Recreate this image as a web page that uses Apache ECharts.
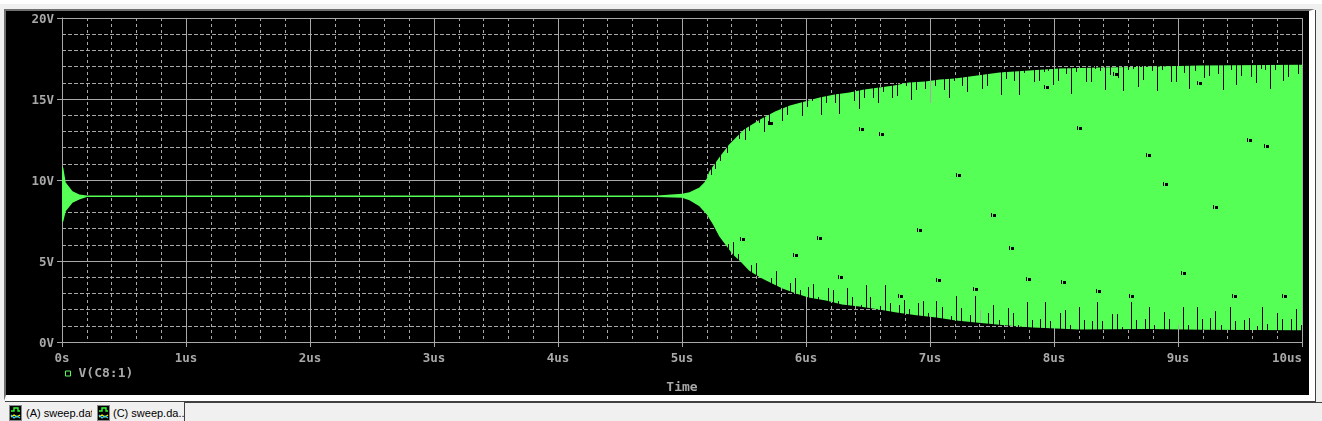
<!DOCTYPE html>
<html>
<head>
<meta charset="utf-8">
<title>sweep.dat</title>
<script src="https://cdn.jsdelivr.net/npm/echarts@6/dist/echarts.min.js"></script>
<style>
html, body { margin: 0; padding: 0; width: 1322px; height: 421px; overflow: hidden; background: #f0f0f0; }
.top-strip { position: absolute; left: 0; top: 0; width: 1322px; height: 4px; background: #fff; }
.frame { position: absolute; left: 4px; top: 9px; width: 1303px; height: 384px; background: #000;
  border-top: 2px solid #707070; border-left: 2px solid #707070; border-bottom: 6px solid #fff; border-right: 6px solid #fff;
  box-shadow: 1px 1px 0 #404040; }
#chart { position: absolute; left: 0; top: 0; width: 1322px; height: 421px; }
.tab { position: absolute; top: 402px; height: 19px; overflow: hidden; white-space: nowrap;
  font: 11px "Liberation Sans", sans-serif; line-height: 22px; color: #000; }
.tab svg { position: absolute; left: 0; top: 3px; }
.tab span { position: absolute; top: 0; }
.rest { position: absolute; left: 184px; top: 402px; width: 1138px; height: 19px; border-top: 1px solid #404040; border-left: 1px solid #404040; box-sizing: border-box; }
</style>
</head>
<body>
<div class="top-strip"></div>
<div class="frame"></div>
<div class="tab" style="left:9px;width:83px">
  <svg width="13" height="16"><rect x=".5" y=".5" width="12" height="15" fill="#000" stroke="#888"/><path d="M2 6h3V3h4v3h2" fill="none" stroke="#3f3" stroke-width="1.4"/><path d="M2 12l3-2 3 2 3-2" fill="none" stroke="#ff0" stroke-width="1.2"/><path d="M2 10l3 3 3-2 3 2" fill="none" stroke="#3cf" stroke-width="1.2"/></svg>
  <span style="left:17px">(A) sweep.dat</span>
</div>
<div class="tab" style="left:97px;width:87px">
  <svg width="13" height="16"><rect x=".5" y=".5" width="12" height="15" fill="#000" stroke="#888"/><path d="M2 6h3V3h4v3h2" fill="none" stroke="#3f3" stroke-width="1.4"/><path d="M2 12l3-2 3 2 3-2" fill="none" stroke="#ff0" stroke-width="1.2"/><path d="M2 10l3 3 3-2 3 2" fill="none" stroke="#3cf" stroke-width="1.2"/></svg>
  <span style="left:16px">(C) sweep.da...</span>
</div>
<div class="rest"></div>
<div id="chart"></div>
<script>
// 上包络 (us, V)
const upperTime = [0, 0.01, 0.03, 0.085, 0.14, 0.2, 4.8, 5.0, 5.06, 5.14, 5.18, 5.2, 5.22, 5.3, 5.38, 5.5, 5.63, 5.75, 5.87, 5.99, 6.11, 6.23, 6.35, 6.47, 6.59, 6.71, 6.83, 6.96, 7.08, 7.2, 7.32, 7.44, 7.56, 7.8, 8.04, 8.37, 8.77, 9.17, 9.98, 10];
const upperVolt = [10.8, 10.77, 9.84, 9.31, 9.1, 9.05, 9.05, 9.15, 9.25, 9.53, 9.85, 10.1, 10.52, 11.39, 12.19, 13.12, 13.73, 14.23, 14.6, 14.85, 15.09, 15.28, 15.4, 15.59, 15.71, 15.83, 16.02, 16.08, 16.2, 16.27, 16.39, 16.51, 16.64, 16.76, 16.88, 16.94, 16.99, 17.07, 17.11, 17.11];
// 下包络
const lowerTime = [0, 0.01, 0.03, 0.085, 0.14, 0.2, 4.8, 5.0, 5.06, 5.14, 5.2, 5.25, 5.3, 5.36, 5.41, 5.47, 5.54, 5.63, 5.71, 5.81, 5.92, 6.02, 6.16, 6.29, 6.43, 6.59, 6.73, 6.89, 7.05, 7.21, 7.37, 7.54, 7.67, 7.83, 8.2, 8.75, 9.2, 9.98, 10];
const lowerVolt = [7.4, 7.43, 8.07, 8.6, 8.8, 8.95, 8.95, 8.9, 8.75, 8.38, 7.87, 7.25, 6.53, 5.91, 5.4, 4.99, 4.41, 3.98, 3.67, 3.3, 2.99, 2.75, 2.56, 2.31, 2.19, 2.01, 1.82, 1.65, 1.51, 1.33, 1.2, 1.08, 0.98, 0.9, 0.77, 0.81, 0.75, 0.73, 0.73];

// 上沿的黑色缺口
const topNotchTime = [5.23, 5.27, 5.31, 5.36, 5.46, 5.51, 5.54, 5.62, 5.66, 5.7, 5.81, 5.85, 5.97, 6.01, 6.05, 6.12, 6.16, 6.23, 6.27, 6.39, 6.43, 6.47, 6.54, 6.58, 6.62, 6.69, 6.73, 6.81, 6.85, 6.89, 6.96, 7.04, 7.11, 7.15, 7.19, 7.26, 7.3, 7.42, 7.46, 7.57, 7.61, 7.68, 7.72, 7.76, 7.84, 7.88, 7.92, 7.95, 7.99, 8.03, 8.1, 8.14, 8.18, 8.26, 8.3, 8.33, 8.37, 8.41, 8.45, 8.52, 8.56, 8.6, 8.64, 8.68, 8.72, 8.79, 8.83, 8.87, 8.94, 8.98, 9.05, 9.09, 9.14, 9.21, 9.25, 9.32, 9.36, 9.43, 9.47, 9.51, 9.59, 9.63, 9.67, 9.7, 9.74, 9.78, 9.85, 9.89, 9.97];
const topNotchEnd = [10.28, 10.65, 11.16, 11.68, 12.56, 12.44, 13.06, 13.53, 12.95, 13.36, 13.67, 14.04, 13.94, 14.5, 14.87, 14.04, 14.76, 14.76, 14.04, 14.87, 14.41, 15.07, 15.07, 14.76, 15.38, 15.07, 15.17, 15.75, 14.93, 15.52, 15.63, 15.83, 15.59, 15.03, 16.1, 15.79, 15.42, 15.59, 15.83, 15.28, 16.2, 16.1, 15.28, 16.57, 16.1, 16.1, 16.65, 16.72, 15.83, 16.1, 16.57, 15.34, 16.72, 16.04, 16.04, 16.82, 16.72, 15.54, 16.51, 16.31, 15.54, 16.78, 16.82, 15.75, 16.16, 16.72, 15.48, 16.82, 16.1, 16.04, 16.57, 15.59, 16.72, 16.31, 16.41, 16.57, 15.59, 16.82, 15.9, 16.45, 16.41, 15.96, 16.82, 16.78, 15.59, 16.78, 16.1, 16.35, 16.51];
// 下沿的黑色缺口
const bottomNotchTime = [5.37, 5.41, 5.45, 5.56, 5.6, 5.72, 5.76, 5.87, 5.91, 5.95, 6.02, 6.06, 6.1, 6.18, 6.22, 6.26, 6.33, 6.37, 6.44, 6.48, 6.52, 6.6, 6.64, 6.68, 6.75, 6.79, 6.83, 6.9, 6.94, 6.98, 7.05, 7.1, 7.17, 7.21, 7.25, 7.32, 7.36, 7.47, 7.51, 7.56, 7.63, 7.67, 7.71, 7.78, 7.82, 7.89, 7.93, 7.97, 8.05, 8.09, 8.13, 8.2, 8.24, 8.31, 8.35, 8.39, 8.47, 8.51, 8.55, 8.62, 8.66, 8.73, 8.77, 8.81, 8.89, 8.93, 9.04, 9.08, 9.15, 9.19, 9.26, 9.3, 9.35, 9.42, 9.46, 9.53, 9.57, 9.64, 9.68, 9.72, 9.8, 9.84, 9.91, 9.95, 9.99];
const bottomNotchEnd = [6.08, 6.16, 5.46, 4.78, 4.85, 3.96, 4.41, 3.65, 3.96, 3.18, 3.41, 3.55, 2.79, 3.34, 3.18, 2.52, 3.34, 2.79, 2.31, 3.49, 2.79, 2.21, 3.49, 2.38, 2.31, 2.62, 2.05, 2.42, 2.56, 1.76, 2.56, 2.15, 1.59, 2.87, 2.07, 1.64, 2.87, 1.76, 2.31, 1.33, 2.07, 1.76, 1.08, 2.5, 1.33, 1.39, 2.5, 1.27, 1.76, 1.96, 1.08, 2.13, 1.33, 1.27, 2.44, 1.27, 1.7, 1.7, 0.94, 2.44, 1.33, 1.39, 2.19, 1.08, 1.88, 1.39, 2.13, 1.02, 2.13, 1.45, 1.51, 1.94, 1.08, 2.19, 1.27, 1.33, 1.51, 0.98, 2.19, 1.14, 1.76, 1.39, 1.39, 2.01, 1.02];
// 缺口里露出网格线的地方
const gridNotchTime = [7.0, 7.4, 9.0];
const gridNotchEnd = [14.78, 1.97, 1.08];

// 绿色区域里的小黑点
const dotTime = [5.49, 5.72, 5.92, 6.11, 6.28, 6.45, 6.61, 6.77, 6.92, 7.07, 7.23, 7.37, 7.52, 7.66, 7.8, 7.94, 8.08, 8.21, 8.36, 8.5, 8.63, 8.77, 8.9, 9.05, 9.18, 9.31, 9.46, 9.58, 9.72, 9.86];
const dotVolt = [6.33, 13.49, 5.34, 6.45, 4.04, 13.12, 12.87, 2.81, 6.94, 3.8, 10.28, 3.3, 7.81, 5.83, 3.86, 15.71, 3.73, 13.24, 3.12, 16.57, 2.81, 11.57, 9.78, 4.29, 15.96, 8.36, 2.81, 12.44, 12.07, 2.87];

const GREEN = '#55ff55';
const GRAY = '#a8a8a8';
const MONO = '"DejaVu Sans Mono", monospace';

// 缺口起点落在包络线上
function edgeAt(times, volts, t) {
    let i = 1;
    while (i < times.length - 1 && times[i] < t) i++;
    const k = (t - times[i - 1]) / (times[i] - times[i - 1]);
    return volts[i - 1] + (volts[i] - volts[i - 1]) * k;
}

function notchData(times, ends, edgeTimes, edgeVolts, pad) {
    return times.map((t, i) => [t, edgeAt(edgeTimes, edgeVolts, t) + pad, ends[i]]);
}

function renderBand(params, api) {
    const points = [];
    upperTime.forEach((t, i) => points.push(api.coord([t, upperVolt[i]])));
    for (let i = lowerTime.length - 1; i >= 0; i--) {
        points.push(api.coord([lowerTime[i], lowerVolt[i]]));
    }
    return { type: 'polygon', shape: { points: points }, style: { fill: GREEN } };
}

function renderNotch(params, api) {
    const a = api.coord([api.value(0), api.value(1)]);
    const b = api.coord([api.value(0), api.value(2)]);
    return {
        type: 'rect',
        shape: { x: Math.round(a[0]), y: Math.round(Math.min(a[1], b[1])), width: 1, height: Math.round(Math.abs(a[1] - b[1])) },
        style: { fill: api.visual('color') }
    };
}

function renderDot(params, api) {
    const p = api.coord([api.value(0), api.value(1)]);
    const x = Math.round(p[0]);
    const y = Math.round(p[1]);
    return {
        type: 'group',
        children: [
            { type: 'rect', shape: { x: x - 1, y: y - 1, width: 3, height: 3 }, style: { fill: '#000' } },
            { type: 'rect', shape: { x: x - 3, y: y - 2, width: 1, height: 4 }, style: { fill: '#000' } }
        ]
    };
}

function xLabel(v) {
    return v === 0 ? '0s' : v + 'us';
}

const chart = echarts.init(document.getElementById('chart'), null, { renderer: 'canvas' });
chart.setOption({
    animation: false,
    backgroundColor: 'transparent',
    grid: { left: 62, right: 20, top: 18, bottom: 79 },
    legend: {
        left: 60, top: 362, itemWidth: 5, itemHeight: 5, itemGap: 0,
        data: [{
            name: 'V(C8:1)', icon: 'rect',
            itemStyle: { color: 'transparent', borderColor: GREEN, borderWidth: 1 }
        }],
        textStyle: { color: GRAY, fontFamily: MONO, fontSize: 13, fontWeight: 'bold', padding: [0, 0, 0, 3] },
        selectedMode: false
    },
    xAxis: {
        type: 'value', min: 0, max: 10, interval: 1,
        name: 'Time', nameLocation: 'middle', nameGap: 39,
        nameTextStyle: { color: GRAY, fontFamily: MONO, fontSize: 13, fontWeight: 'bold' },
        axisLine: { show: true, onZero: false, lineStyle: { color: GRAY } },
        axisTick: { show: true, length: 5, lineStyle: { color: GRAY } },
        axisLabel: { color: GRAY, fontFamily: MONO, fontSize: 12.5, fontWeight: 'bold', margin: 10, formatter: xLabel, alignMaxLabel: 'right' },
        splitLine: { show: true, lineStyle: { color: GRAY, width: 1 } },
        minorTick: { show: false, splitNumber: 5 },
        minorSplitLine: { show: true, lineStyle: { color: GRAY, width: 1, type: [3, 3] } }
    },
    yAxis: {
        type: 'value', min: 0, max: 20, interval: 5,
        axisLine: { show: true, onZero: false, lineStyle: { color: GRAY } },
        axisTick: { show: true, length: 5, lineStyle: { color: GRAY } },
        axisLabel: { color: GRAY, fontFamily: MONO, fontSize: 12.5, fontWeight: 'bold', margin: 8, verticalAlign: 'top', lineHeight: 3, formatter: '{value}V' },
        splitLine: { show: true, lineStyle: { color: GRAY, width: 1 } },
        minorTick: { show: false, splitNumber: 5 },
        minorSplitLine: { show: true, lineStyle: { color: GRAY, width: 1, type: [4, 2] } }
    },
    series: [
        {
            name: 'V(C8:1)', type: 'custom', silent: true, renderItem: renderBand,
            data: [[5, 9]], encode: { x: 0, y: 1 }, itemStyle: { color: GREEN }, z: 2
        },
        {
            name: 'top notches', type: 'custom', silent: true, renderItem: renderNotch,
            data: notchData(topNotchTime, topNotchEnd, upperTime, upperVolt, 0.1),
            encode: { x: 0, y: [1, 2] }, itemStyle: { color: '#000' }, z: 3
        },
        {
            name: 'bottom notches', type: 'custom', silent: true, renderItem: renderNotch,
            data: notchData(bottomNotchTime, bottomNotchEnd, lowerTime, lowerVolt, -0.1),
            encode: { x: 0, y: [1, 2] }, itemStyle: { color: '#000' }, z: 3
        },
        {
            name: 'grid notches', type: 'custom', silent: true, renderItem: renderNotch,
            data: [
                [gridNotchTime[0], edgeAt(upperTime, upperVolt, gridNotchTime[0]), gridNotchEnd[0]],
                [gridNotchTime[1], edgeAt(lowerTime, lowerVolt, gridNotchTime[1]), gridNotchEnd[1]],
                [gridNotchTime[2], edgeAt(lowerTime, lowerVolt, gridNotchTime[2]), gridNotchEnd[2]]
            ],
            encode: { x: 0, y: [1, 2] }, itemStyle: { color: GRAY }, z: 3
        },
        {
            name: 'dots', type: 'custom', silent: true, renderItem: renderDot,
            data: dotTime.map((t, i) => [t, dotVolt[i]]),
            encode: { x: 0, y: 1 }, z: 4
        }
    ]
});
window.addEventListener('resize', chart.resize);
</script>
</body>
</html>
